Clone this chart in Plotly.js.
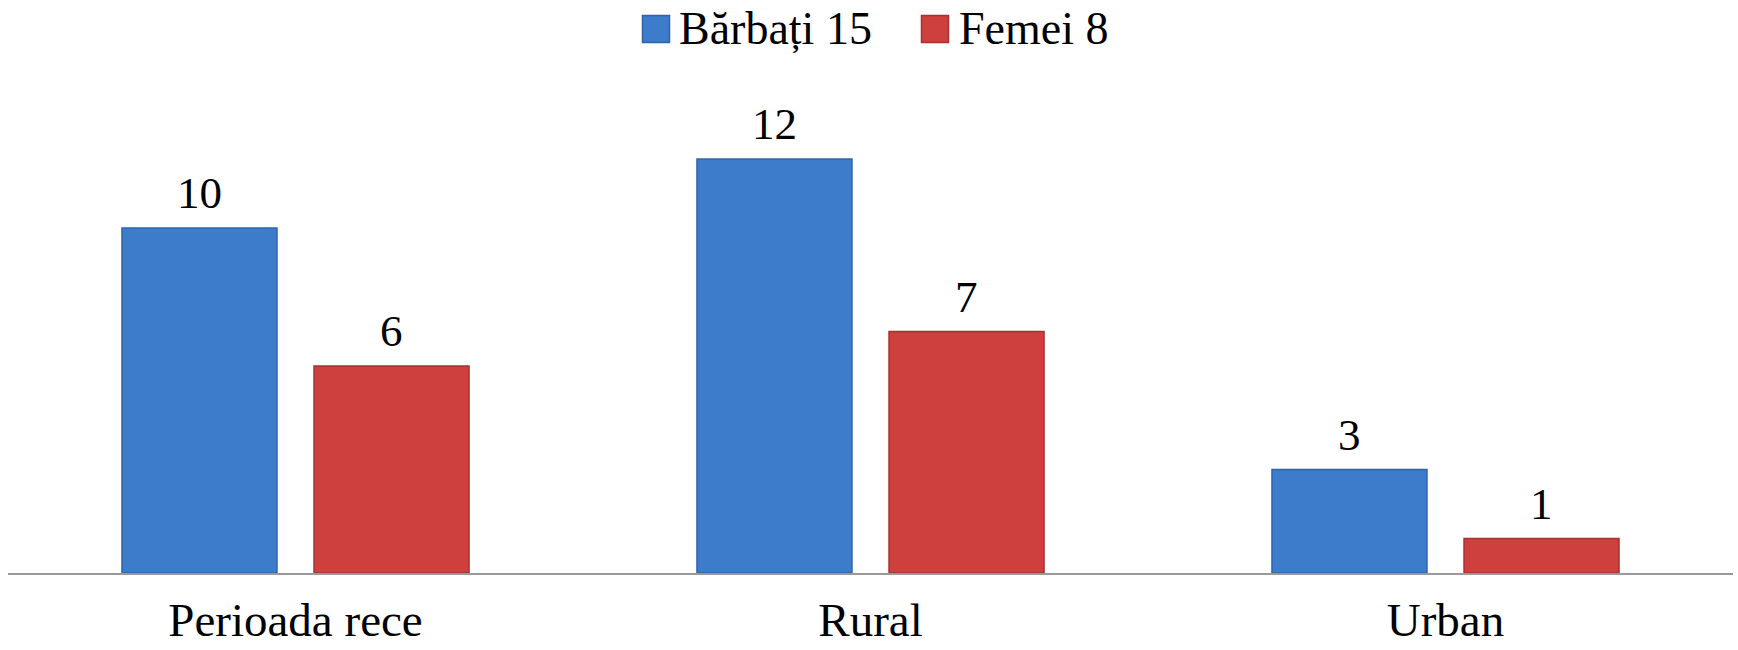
<!DOCTYPE html>
<html>
<head>
<meta charset="utf-8">
<script src="https://cdn.plot.ly/plotly-3.0.1.min.js"></script>
<style>html,body{margin:0;padding:0;background:#fff;}#chart{width:1738px;height:650px;}</style>
</head>
<body>
<div id="chart"></div>
<script>
const categories = ["Perioada rece", "Rural", "Urban"];
const seriesNames = ["Bărbați 15", "Femei 8"];
const barbati = [10, 12, 3];
const femei = [6, 7, 1];

const FONT = "Liberation Serif, Times New Roman, serif";
const COLORS = ['#3d7bcb', '#cd403d'];
const EDGES = ['#2f64a8', '#a8302e'];

// layout geometry (pixels)
const W = 1738, H = 650, ML = 8, MR = 5, MT = 90, MB = 77;
const PW = W - ML - MR, PH = H - MT - MB;
const px2x = function(px){ return (px - ML) / PW; };
const py2y = function(py){ return (H - MB - py) / PH; };
const BARGAP = 0.332, GROUPGAP = 0.193;
const slot = PW / categories.length * (1 - BARGAP) / 2;

const series = [barbati, femei];
const traces = series.map(function(vals, i){
  return {
    type: 'bar', name: seriesNames[i], x: categories, y: vals,
    marker: {color: COLORS[i], line: {color: EDGES[i], width: 1.5}},
    hoverinfo: 'x+y', showlegend: false
  };
});

const annotations = [];
series.forEach(function(vals, i){
  vals.forEach(function(v, j){
    annotations.push({
      x: categories[j], y: v, xref: 'x', yref: 'y',
      text: String(v), showarrow: false,
      xshift: (i === 0 ? -1 : 1) * slot / 2,
      yanchor: 'bottom', yshift: 8,
      font: {family: FONT, size: 45, color: '#000'}
    });
  });
});

// custom legend (large squares as in the reference)
const legendSquares = [656, 935];
const legendText = [677, 957];
const legendCy = 29, sq = 13.5;
const shapes = [];
seriesNames.forEach(function(name, i){
  shapes.push({
    type: 'rect', xref: 'paper', yref: 'paper',
    x0: px2x(legendSquares[i] - sq), x1: px2x(legendSquares[i] + sq),
    y0: py2y(legendCy + sq), y1: py2y(legendCy - sq),
    fillcolor: COLORS[i], line: {color: EDGES[i], width: 1.5}
  });
  annotations.push({
    x: px2x(legendText[i]), y: py2y(legendCy), xref: 'paper', yref: 'paper',
    xanchor: 'left', yanchor: 'middle', text: name, showarrow: false,
    font: {family: FONT, size: 46, color: '#000'}
  });
});

const layout = {
  width: W, height: H,
  margin: {l: ML, r: MR, t: MT, b: MB},
  paper_bgcolor: '#fff', plot_bgcolor: '#fff',
  barmode: 'group', bargap: BARGAP, bargroupgap: GROUPGAP,
  font: {family: FONT, color: '#000'},
  showlegend: false,
  annotations: annotations,
  shapes: shapes,
  xaxis: {
    showline: true, linecolor: '#9a9a9a', linewidth: 1.5,
    showgrid: false, zeroline: false, ticks: '',
    ticklabelstandoff: 5,
    tickfont: {family: FONT, size: 47, color: '#000'},
    fixedrange: true
  },
  yaxis: {
    range: [0, 14], visible: false, showgrid: false, zeroline: false, fixedrange: true
  }
};

Plotly.newPlot('chart', traces, layout, {displayModeBar: false, staticPlot: true});
</script>
</body>
</html>
